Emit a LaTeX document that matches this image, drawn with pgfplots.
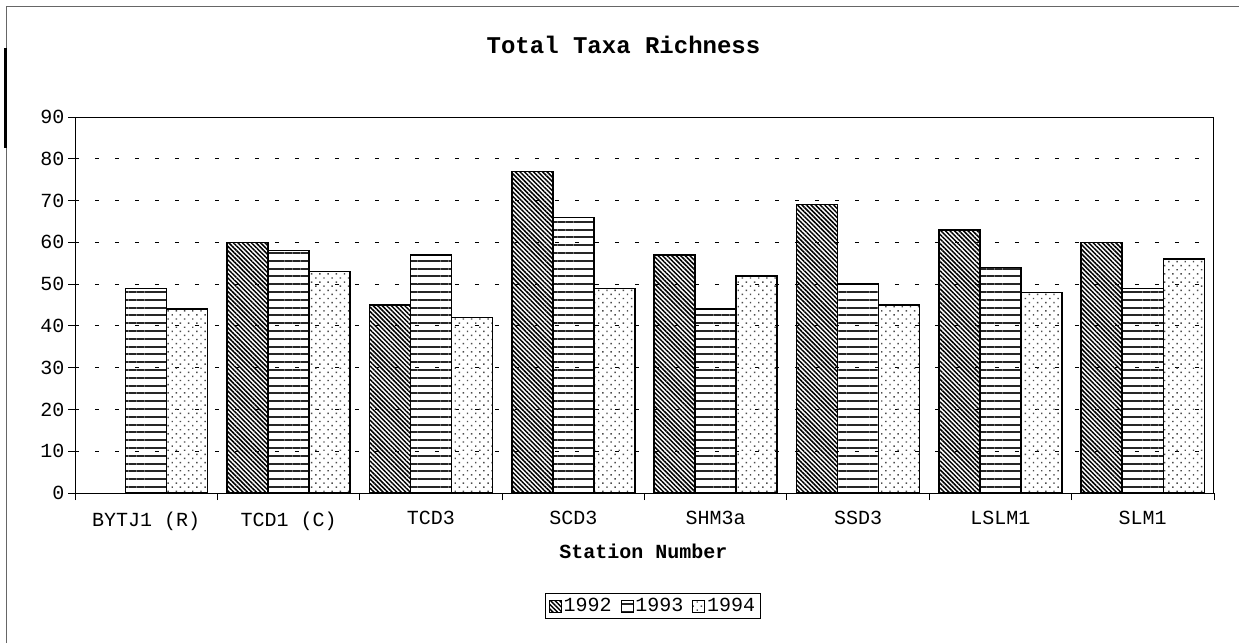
\documentclass[border=0pt]{standalone}
\usepackage{pgfplots}
\pgfplotsset{compat=1.18}
\usepackage{fontspec}
\setmainfont{Liberation Mono}
\usetikzlibrary{patterns.meta}
\begin{document}
\begin{tikzpicture}
\path[use as bounding box] (0pt,0pt) rectangle (1239pt,-643pt);
\fill[white] (0pt,0pt) rectangle (1239pt,-643pt);
\draw[black!60, line width=1pt] (6pt,-643pt) -- (6pt,-6pt) -- (1239pt,-6pt);
\draw[black, line width=2.5pt] (5.5pt,-48pt) -- (5.5pt,-148pt);
\node[font=\bfseries\fontsize{24}{26}\selectfont] at (623.5pt,-45pt) {Total Taxa Richness};
\begin{axis}[
  at={(75pt,-493pt)}, anchor=south west,
  scale only axis, width=1139pt, height=376pt,
  xmin=-0.5, xmax=7.5, ymin=0, ymax=90,
  ybar=0pt, bar width=41pt,
  xtick={-0.5,0.5,...,7.5},
  x tick label as interval,
  xticklabels={BYTJ1 (R),TCD1 (C),TCD3,SCD3,SHM3a,SSD3,LSLM1,SLM1},
  ytick={0,10,...,90},
  tick pos=left,
  tick align=outside, major tick length=7pt,
  tick style={black, line width=0.8pt},
  axis line style={black, line width=0.9pt},
  ymajorgrids,
  grid style={black, line width=0.8pt, dash pattern=on 4pt off 16pt},
  ticklabel style={font=\fontsize{20}{22}\selectfont},
  /pgf/number format/assume math mode=true,
  yticklabel style={xshift=0pt},
  xticklabel style={yshift=-8pt},
  xlabel={Station Number},
  xlabel style={font=\bfseries\fontsize{20}{22}\selectfont, at={(axis description cs:0.499,-0.154)}, anchor=center},
  legend columns=3,
  legend style={at={(0.5075,-0.3005)}, anchor=center, draw=black, line width=0.8pt,
    font=\fontsize{20}{22}\selectfont, inner sep=3pt,
    /tikz/every even column/.append style={column sep=7pt},
    /tikz/every odd column/.append style={column sep=0pt}},
  legend image code/.code={\draw[#1, line width=0.8pt] (0pt,-6pt) rectangle (12pt,6pt);},
  every axis plot/.append style={draw=black, line width=1.5pt},
]
\addplot[pattern={Lines[angle=-45,distance=3.2pt,line width=1.5pt]}, pattern color=black]
  coordinates {(1,60) (2,45) (3,77) (4,57) (5,69) (6,63) (7,60)};
\addplot[pattern={Lines[angle=0,distance=7.8pt,line width=2pt]}, pattern color=black!85]
  coordinates {(0,49) (1,58) (2,57) (3,66) (4,44) (5,50) (6,54) (7,49)};
\addplot[pattern={Dots[angle=45,distance=5.8pt,radius=1pt]}, pattern color=black!70]
  coordinates {(0,44) (1,53) (2,42) (3,49) (4,52) (5,45) (6,48) (7,56)};
\legend{1992,1993,1994}
\end{axis}
\end{tikzpicture}
\end{document}
